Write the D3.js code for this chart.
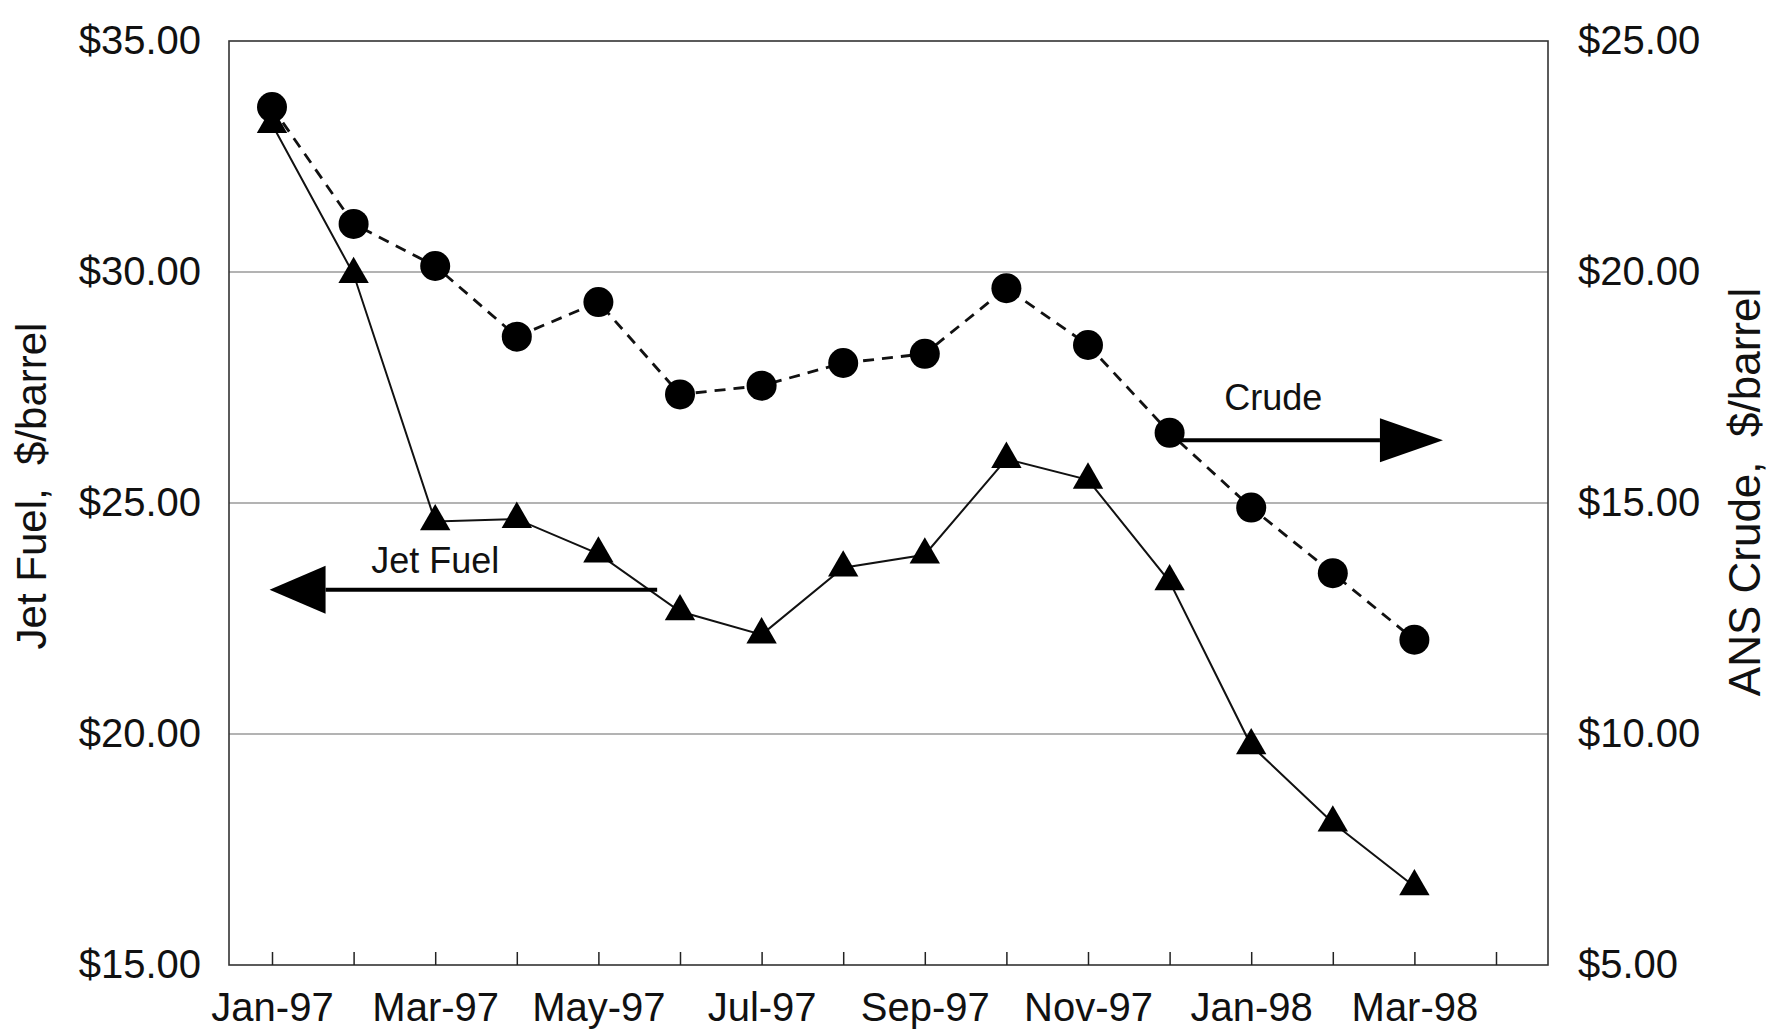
<!DOCTYPE html>
<html>
<head>
<meta charset="utf-8">
<script src="https://cdn.jsdelivr.net/npm/d3@7"></script>
<style>
  body { margin: 0; background: #fff; }
  svg text { font-family: 'Liberation Sans', Arial, sans-serif; fill: #111; }
  .title { white-space: pre; }
</style>
</head>
<body>
<svg class="chart" width="1770" height="1030"></svg>
<script>
// months on the x axis (last one only has a tick)
const months = ['Jan-97', 'Feb-97', 'Mar-97', 'Apr-97', 'May-97', 'Jun-97', 'Jul-97', 'Aug-97',
  'Sep-97', 'Oct-97', 'Nov-97', 'Dec-97', 'Jan-98', 'Feb-98', 'Mar-98', 'Apr-98'];
// jet fuel, $/barrel (left axis)
const jetFuel = [33.2, 29.95, 24.6, 24.65, 23.9, 22.65, 22.15, 23.6, 23.88, 25.95, 25.5, 23.3, 19.75, 18.08, 16.7];
// ANS crude, $/barrel (right axis)
const crude = [23.57, 21.04, 20.13, 18.6, 19.35, 17.35, 17.54, 18.03, 18.23, 19.65, 18.42, 16.52, 14.9, 13.48, 12.04];
const leftTicks = [15, 20, 25, 30, 35];
const rightTicks = [5, 10, 15, 20, 25];
const labelMonths = ['Jan-97', 'Mar-97', 'May-97', 'Jul-97', 'Sep-97', 'Nov-97', 'Jan-98', 'Mar-98'];

const frame = { left: 229, right: 1548, top: 41, bottom: 965 };
const svg = d3.select('.chart');

const x = d3.scalePoint()
  .domain(months)
  .range([272, 1496]);
const xi = d3.scaleLinear()
  .domain([0, months.length - 1])
  .range([272, 1496]);
const yLeft = d3.scaleLinear().domain([15, 35]).range([frame.bottom, frame.top]);
const yRight = d3.scaleLinear().domain([5, 25]).range([frame.bottom, frame.top]);

// gridlines
svg.append('g')
  .selectAll('line')
  .data([20, 25, 30])
  .enter()
  .append('line')
  .attr('x1', frame.left)
  .attr('x2', frame.right)
  .attr('y1', d => yLeft(d))
  .attr('y2', d => yLeft(d))
  .attr('stroke', '#9a9a9a')
  .attr('stroke-width', 1.5);

// plot frame
svg.append('rect')
  .attr('x', frame.left)
  .attr('y', frame.top)
  .attr('width', frame.right - frame.left)
  .attr('height', frame.bottom - frame.top)
  .attr('fill', 'none')
  .attr('stroke', '#333')
  .attr('stroke-width', 1.6);

// axes
const fmt = d3.format('$.2f');
const xAxis = svg.append('g')
  .attr('transform', `translate(0,${frame.bottom})`)
  .call(d3.axisBottom(x)
    .tickSizeInner(-13)
    .tickSizeOuter(0)
    .tickPadding(28)
    .tickFormat(d => (labelMonths.includes(d) ? d : '')));
xAxis.select('.domain').remove();
xAxis.selectAll('.tick line').attr('stroke', '#222').attr('stroke-width', 1.5);
xAxis.selectAll('text').attr('font-size', 40);

const leftAxis = svg.append('g')
  .attr('transform', `translate(${frame.left},0)`)
  .call(d3.axisLeft(yLeft).tickValues(leftTicks).tickSize(0).tickPadding(28).tickFormat(fmt));
leftAxis.select('.domain').remove();
leftAxis.selectAll('text').attr('font-size', 40);

const rightAxis = svg.append('g')
  .attr('transform', `translate(${frame.right},0)`)
  .call(d3.axisRight(yRight).tickValues(rightTicks).tickSize(0).tickPadding(30).tickFormat(fmt));
rightAxis.select('.domain').remove();
rightAxis.selectAll('text').attr('font-size', 40);

// axis titles
svg.append('text')
  .attr('class', 'title')
  .attr('transform', `translate(46,486) rotate(-90)`)
  .attr('text-anchor', 'middle')
  .attr('font-size', 42)
  .text('Jet Fuel,  $/barrel');
svg.append('text')
  .attr('class', 'title')
  .attr('transform', `translate(1760,492) rotate(-90)`)
  .attr('text-anchor', 'middle')
  .attr('font-size', 44)
  .text('ANS Crude,  $/barrel');

// series
const jetLine = d3.line()
  .x((d, i) => x(months[i]))
  .y(d => yLeft(d));
const crudeLine = d3.line()
  .x((d, i) => x(months[i]))
  .y(d => yRight(d));

svg.append('path')
  .datum(crude)
  .attr('d', crudeLine)
  .attr('fill', 'none')
  .attr('stroke', '#111')
  .attr('stroke-width', 2.8)
  .attr('stroke-dasharray', '11,8');

svg.append('path')
  .datum(jetFuel)
  .attr('d', jetLine)
  .attr('fill', 'none')
  .attr('stroke', '#111')
  .attr('stroke-width', 2);

svg.append('g')
  .selectAll('path')
  .data(jetFuel)
  .enter()
  .append('path')
  .attr('d', d3.symbol().type(d3.symbolTriangle).size(400))
  .attr('transform', (d, i) => `translate(${x(months[i])},${yLeft(d)})`)
  .attr('fill', '#000');

svg.append('g')
  .selectAll('circle')
  .data(crude)
  .enter()
  .append('circle')
  .attr('cx', (d, i) => x(months[i]))
  .attr('cy', d => yRight(d))
  .attr('r', 15)
  .attr('fill', '#000');

// annotation arrows
function arrow(x1, x2, y, head, half) {
  const dir = x2 > x1 ? 1 : -1;
  const g = svg.append('g');
  g.append('line')
    .attr('x1', x1)
    .attr('x2', x2 - dir * head)
    .attr('y1', y)
    .attr('y2', y)
    .attr('stroke', '#000')
    .attr('stroke-width', 4);
  g.append('path')
    .attr('d', `M${x2},${y}L${x2 - dir * head},${y - half}L${x2 - dir * head},${y + half}Z`)
    .attr('fill', '#000');
}
arrow(xi(11.05), xi(14.35), yRight(16.36), 63, 22);
arrow(xi(4.72), xi(-0.03), yLeft(23.12), 56, 24);

svg.append('text')
  .attr('x', xi(12.27))
  .attr('y', yLeft(27.01))
  .attr('text-anchor', 'middle')
  .attr('font-size', 36)
  .text('Crude');
svg.append('text')
  .attr('x', xi(2.0))
  .attr('y', yLeft(23.48))
  .attr('text-anchor', 'middle')
  .attr('font-size', 36)
  .text('Jet Fuel');
</script>
</body>
</html>
